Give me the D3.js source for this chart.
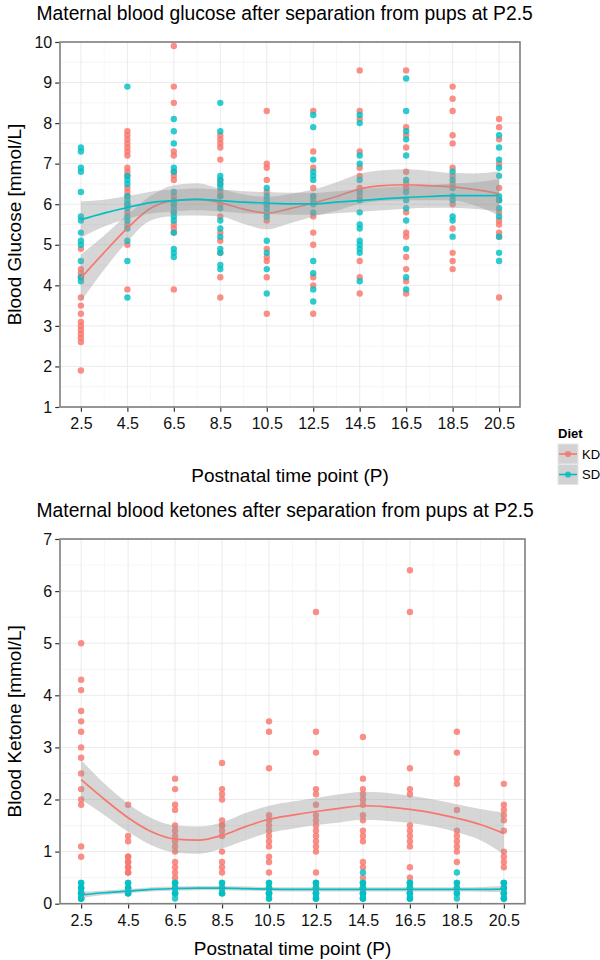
<!DOCTYPE html>
<html>
<head>
<meta charset="utf-8">
<script src="https://cdn.jsdelivr.net/npm/d3@7"></script>
<style>
  html, body { margin: 0; padding: 0; background: #fff; }
  svg { display: block; }
  text { font-family: "Liberation Sans", Arial, Helvetica, sans-serif; }
</style>
</head>
<body>
<div id="chart"></div>
<script>
// ---------------- DATA ----------------
const timePoints = [2.5, 4.5, 6.5, 8.5, 10.5, 12.5, 14.5, 16.5, 18.5, 20.5];
const xTickLabels = ["2.5", "4.5", "6.5", "8.5", "10.5", "12.5", "14.5", "16.5", "18.5", "20.5"];
const dietGroups = ["KD", "SD"];
const dietColors = ["#F8766D", "#00BFC4"];

// Glucose (mmol/L), one array per time point
const glucoseKD = [
  [4.9, 4.4, 4.3, 4.2, 3.7, 3.5, 3.3, 3.1, 3.0, 2.9, 2.8, 2.7, 2.6, 1.9],
  [7.8, 7.7, 7.6, 7.5, 7.4, 7.3, 7.2, 6.9, 6.8, 6.7, 6.4, 6.3, 6.2, 6.0, 5.8, 5.5, 5.0, 3.9],
  [9.9, 8.9, 8.5, 7.3, 7.2, 6.8, 6.7, 6.6, 6.2, 6.0, 5.8, 5.5, 5.4, 5.3, 3.9],
  [7.7, 7.6, 7.5, 7.4, 7.1, 6.6, 6.5, 6.3, 6.2, 6.0, 5.7, 5.3, 5.1, 4.8, 4.2, 3.7],
  [8.3, 7.0, 6.9, 6.6, 6.3, 6.0, 5.6, 4.9, 4.7, 4.6, 4.2, 3.3],
  [8.3, 7.3, 6.9, 6.4, 6.2, 5.7, 5.3, 5.0, 4.2, 4.0, 3.3],
  [9.3, 8.3, 8.1, 7.3, 6.9, 6.7, 6.4, 6.2, 4.6, 4.2, 3.8],
  [9.3, 7.9, 7.7, 7.4, 6.8, 6.5, 6.4, 5.8, 5.3, 5.2, 4.7, 4.4, 4.1, 3.8],
  [8.9, 8.6, 8.3, 7.7, 7.5, 6.9, 6.7, 6.5, 6.0, 5.4, 4.8, 4.6, 4.4],
  [8.1, 7.9, 7.6, 7.0, 6.4, 6.1, 5.8, 5.6, 5.5, 5.3, 5.2, 3.7]
];
const glucoseSD = [
  [7.4, 7.3, 6.9, 6.8, 6.3, 5.7, 5.6, 5.3, 5.1, 5.0, 4.6, 4.2, 4.1],
  [8.9, 6.7, 6.6, 6.5, 6.2, 6.1, 6.0, 5.9, 5.7, 5.6, 5.4, 5.1, 4.6, 3.7],
  [8.1, 7.8, 7.5, 6.9, 6.8, 6.3, 6.1, 6.0, 5.9, 5.8, 5.7, 5.6, 5.3, 4.9, 4.8, 4.7],
  [8.5, 7.8, 6.7, 6.6, 6.5, 6.4, 6.2, 5.9, 5.6, 5.4, 5.2, 4.9, 4.8, 4.5, 4.4],
  [6.4, 6.2, 6.1, 6.0, 5.9, 5.8, 5.7, 5.1, 4.8, 4.4, 3.8],
  [8.2, 7.9, 7.1, 6.8, 6.7, 6.6, 6.2, 6.1, 6.0, 5.8, 4.6, 4.3, 3.9, 3.6],
  [8.2, 8.0, 7.2, 7.0, 6.6, 6.3, 6.1, 5.8, 5.5, 5.4, 5.1, 5.0, 4.9, 4.8, 4.1],
  [9.1, 8.3, 7.8, 7.6, 7.2, 6.6, 6.3, 6.1, 5.9, 5.6, 4.9, 4.2, 3.9],
  [6.8, 6.6, 6.4, 6.2, 6.1, 5.7, 5.6, 5.2],
  [7.7, 7.4, 7.1, 6.9, 6.7, 6.2, 6.1, 5.9, 5.7, 5.2, 4.8, 4.6]
];

// Ketone (mmol/L), one array per time point
const ketoneKD = [
  [5.0, 4.3, 4.1, 3.7, 3.5, 3.3, 3.0, 2.8, 2.5, 2.2, 2.0, 1.9, 1.1, 0.9],
  [1.9, 1.3, 1.2, 0.9, 0.9, 0.8, 0.8, 0.7, 0.7, 0.6, 0.6],
  [2.4, 2.2, 1.9, 1.8, 1.5, 1.4, 1.3, 1.2, 1.1, 1.0, 0.8, 0.7, 0.6, 0.5],
  [2.7, 2.2, 2.1, 2.0, 1.6, 1.5, 1.5, 1.4, 1.3, 1.0, 0.8, 0.7, 0.6],
  [3.5, 3.3, 2.6, 1.7, 1.6, 1.5, 1.4, 1.3, 1.2, 1.1, 0.9, 0.8, 0.6],
  [5.6, 3.3, 2.9, 2.2, 2.1, 1.9, 1.7, 1.6, 1.5, 1.4, 1.3, 1.2, 1.1, 1.0, 0.6],
  [3.2, 2.4, 2.2, 2.1, 2.0, 1.9, 1.7, 1.6, 1.4, 1.3, 1.2, 0.8, 0.7, 0.5],
  [6.4, 5.6, 2.6, 2.2, 2.1, 1.5, 1.4, 1.3, 1.2, 1.1, 0.7, 0.5],
  [3.3, 2.9, 2.4, 2.3, 1.8, 1.4, 1.3, 1.2, 1.1, 1.0, 0.8],
  [2.3, 1.9, 1.8, 1.7, 1.6, 1.4, 1.0, 0.9, 0.8, 0.7]
];
const ketoneSD = [
  [0.4, 0.3, 0.2, 0.2, 0.1, 0.1, 0.2, 0.3, 0.1, 0.4, 0.2, 0.3, 0.1],
  [0.4, 0.3, 0.2, 0.3, 0.2, 0.4, 0.3, 0.2],
  [0.4, 0.4, 0.3, 0.3, 0.2, 0.2, 0.1, 0.3, 0.4, 0.2],
  [0.4, 0.3, 0.3, 0.2, 0.2, 0.4, 0.3, 0.2],
  [0.4, 0.3, 0.2, 0.1, 0.3, 0.2, 0.4, 0.1, 0.3, 0.2, 0.2],
  [0.4, 0.3, 0.2, 0.1, 0.3, 0.2, 0.4, 0.1, 0.3, 0.2, 0.2, 0.3, 0.1, 0.4],
  [0.6, 0.4, 0.3, 0.2, 0.1, 0.4, 0.3, 0.2, 0.1, 0.3, 0.2, 0.4, 0.1, 0.3, 0.2],
  [0.4, 0.3, 0.2, 0.1, 0.4, 0.3, 0.2, 0.1, 0.3, 0.2, 0.4, 0.1, 0.3],
  [0.6, 0.4, 0.3, 0.2, 0.1, 0.2, 0.3, 0.4],
  [0.4, 0.3, 0.2, 0.1, 0.4, 0.3, 0.2, 0.1, 0.3, 0.2, 0.4, 0.1]
];

// Loess smooth at each day
const smoothX = [2.5, 3.5, 4.5, 5.5, 6.5, 7.5, 8.5, 9.5, 10.5, 11.5, 12.5, 13.5, 14.5, 15.5, 16.5, 17.5, 18.5, 19.5, 20.5];
const glucoseKDFit = [4.18, 4.81, 5.41, 5.90, 6.09, 6.12, 6.04, 5.88, 5.78, 5.89, 6.03, 6.19, 6.38, 6.46, 6.48, 6.46, 6.43, 6.36, 6.26];
const glucoseKDSe  = [0.58, 0.42, 0.33, 0.30, 0.38, 0.40, 0.34, 0.36, 0.40, 0.36, 0.33, 0.35, 0.37, 0.38, 0.38, 0.36, 0.34, 0.40, 0.55];
const glucoseSDFit = [5.62, 5.78, 5.92, 6.04, 6.09, 6.12, 6.09, 6.05, 6.03, 6.01, 6.01, 6.05, 6.09, 6.13, 6.17, 6.19, 6.21, 6.21, 6.22];
const glucoseSDSe  = [0.45, 0.33, 0.28, 0.27, 0.27, 0.27, 0.27, 0.27, 0.27, 0.27, 0.27, 0.27, 0.28, 0.28, 0.28, 0.28, 0.30, 0.33, 0.40];
const ketoneKDFit  = [2.38, 2.00, 1.65, 1.38, 1.24, 1.22, 1.31, 1.48, 1.62, 1.70, 1.77, 1.83, 1.88, 1.86, 1.81, 1.74, 1.64, 1.52, 1.35];
const ketoneKDSe   = [0.38, 0.30, 0.27, 0.26, 0.26, 0.26, 0.25, 0.26, 0.26, 0.26, 0.26, 0.27, 0.27, 0.27, 0.26, 0.26, 0.27, 0.30, 0.40];
const ketoneSDFit  = [0.17, 0.21, 0.24, 0.275, 0.29, 0.30, 0.30, 0.29, 0.28, 0.275, 0.275, 0.275, 0.275, 0.275, 0.275, 0.275, 0.275, 0.275, 0.28];
const ketoneSDSe   = [0.06, 0.045, 0.04, 0.04, 0.04, 0.04, 0.04, 0.04, 0.04, 0.04, 0.04, 0.04, 0.04, 0.04, 0.04, 0.04, 0.04, 0.045, 0.06];

const glucoseTicks = [1, 2, 3, 4, 5, 6, 7, 8, 9, 10];
const ketoneTicks = [0, 1, 2, 3, 4, 5, 6, 7];

// ---------------- DRAWING ----------------
const W = 600, H = 960;
const svg = d3.select("#chart").append("svg").attr("width", W).attr("height", H);

function drawPanel(cfg) {
  const g = svg.append("g");
  const x = d3.scaleLinear().domain([1.6, 21.4]).range([cfg.left, cfg.right]);
  const y = d3.scaleLinear().domain(cfg.yDomain).range([cfg.bottom, cfg.top]);

  // title
  svg.append("text").attr("x", 36.5).attr("y", cfg.titleY)
    .attr("font-size", 19.3).attr("fill", "#000").text(cfg.title);

  // minor grid
  const yMinor = [];
  for (let v = cfg.yDomain[0] + 0.5; v < cfg.yDomain[1]; v += 1) yMinor.push(v);
  const xMinor = timePoints.slice(0, -1).map((t, i) => (t + timePoints[i + 1]) / 2);
  g.selectAll(".ymin").data(yMinor).enter().append("line")
    .attr("x1", cfg.left).attr("x2", cfg.right)
    .attr("y1", d => y(d)).attr("y2", d => y(d))
    .attr("stroke", "#f3f3f3").attr("stroke-width", 0.8);
  g.selectAll(".xmin").data(xMinor).enter().append("line")
    .attr("y1", cfg.top).attr("y2", cfg.bottom)
    .attr("x1", d => x(d)).attr("x2", d => x(d))
    .attr("stroke", "#f5f5f5").attr("stroke-width", 0.8);
  // major grid
  g.selectAll(".ymaj").data(cfg.yTicks).enter().append("line")
    .attr("x1", cfg.left).attr("x2", cfg.right)
    .attr("y1", d => y(d)).attr("y2", d => y(d))
    .attr("stroke", "#ebebeb").attr("stroke-width", 1);
  g.selectAll(".xmaj").data(timePoints).enter().append("line")
    .attr("y1", cfg.top).attr("y2", cfg.bottom)
    .attr("x1", d => x(d)).attr("x2", d => x(d))
    .attr("stroke", "#ebebeb").attr("stroke-width", 1);

  // points
  const pts = [];
  timePoints.forEach((t, i) => {
    cfg.kd[i].forEach(v => pts.push({ t, v, grp: 0 }));
    cfg.sd[i].forEach(v => pts.push({ t, v, grp: 1 }));
  });
  g.selectAll(".pt").data(pts).enter().append("circle")
    .attr("cx", d => x(d.t)).attr("cy", d => y(d.v)).attr("r", 3.2)
    .attr("fill", d => dietColors[d.grp]).attr("fill-opacity", 0.82);

  // smooths
  const series = [
    { fit: cfg.kdFit, se: cfg.kdSe, color: dietColors[0] },
    { fit: cfg.sdFit, se: cfg.sdSe, color: dietColors[1] }
  ];
  const curve = d3.curveMonotoneX;
  series.forEach(s => {
    const rows = smoothX.map((t, i) => ({ t, f: s.fit[i], lo: s.fit[i] - s.se[i], hi: s.fit[i] + s.se[i] }));
    g.append("path").datum(rows)
      .attr("d", d3.area().curve(curve).x(d => x(d.t)).y0(d => y(d.lo)).y1(d => y(d.hi)))
      .attr("fill", "#999999").attr("fill-opacity", 0.4);
    g.append("path").datum(rows)
      .attr("d", d3.line().curve(curve).x(d => x(d.t)).y(d => y(d.f)))
      .attr("fill", "none").attr("stroke", s.color).attr("stroke-width", 1.7);
  });

  // border
  g.append("rect").attr("x", cfg.left).attr("y", cfg.top)
    .attr("width", cfg.right - cfg.left).attr("height", cfg.bottom - cfg.top)
    .attr("fill", "none").attr("stroke", "#7f7f7f").attr("stroke-width", 1.6);

  // axes
  const ax = g.append("g").attr("transform", `translate(0,${cfg.bottom + 0.8})`)
    .call(d3.axisBottom(x).tickValues(timePoints).tickFormat((d, i) => xTickLabels[i]).tickSize(4).tickPadding(6));
  const ay = g.append("g").attr("transform", `translate(${cfg.left - 0.8},0)`)
    .call(d3.axisLeft(y).tickValues(cfg.yTicks).tickFormat(d3.format("d")).tickSize(4).tickPadding(3));
  [ax, ay].forEach(a => {
    a.select(".domain").remove();
    a.selectAll(".tick line").attr("stroke", "#333").attr("stroke-width", 1.2);
    a.selectAll(".tick text").attr("font-size", 16).attr("fill", "#111")
      .attr("font-family", '"Liberation Sans", Arial, Helvetica, sans-serif');
  });

  // axis titles
  svg.append("text").attr("x", (cfg.left + cfg.right) / 2).attr("y", cfg.xTitleY)
    .attr("text-anchor", "middle").attr("font-size", 19).text("Postnatal time point (P)");
  svg.append("text")
    .attr("transform", `translate(${cfg.yTitleX},${(cfg.top + cfg.bottom) / 2}) rotate(-90)`)
    .attr("text-anchor", "middle").attr("font-size", 19).text(cfg.yTitle);
}

drawPanel({
  title: "Maternal blood glucose after separation from pups at P2.5",
  titleY: 19.5, left: 60, right: 520, top: 42, bottom: 407,
  yDomain: [1, 10], yTicks: glucoseTicks,
  kd: glucoseKD, sd: glucoseSD,
  kdFit: glucoseKDFit, kdSe: glucoseKDSe, sdFit: glucoseSDFit, sdSe: glucoseSDSe,
  xTitleY: 482, yTitleX: 21, yTitle: "Blood Glucose [mmol/L]"
});
drawPanel({
  title: "Maternal blood ketones after separation from pups at P2.5",
  titleY: 517, left: 60, right: 525, top: 539, bottom: 903.7,
  yDomain: [0, 7], yTicks: ketoneTicks,
  kd: ketoneKD, sd: ketoneSD,
  kdFit: ketoneKDFit, kdSe: ketoneKDSe, sdFit: ketoneSDFit, sdSe: ketoneSDSe,
  xTitleY: 955, yTitleX: 21, yTitle: "Blood Ketone [mmol/L]"
});

// legend
const lg = svg.append("g");
lg.append("text").attr("x", 558).attr("y", 438).attr("font-size", 13).attr("font-weight", "bold").text("Diet");
dietGroups.forEach((name, i) => {
  const ky = 444 + i * 20.5;
  lg.append("rect").attr("x", 558).attr("y", ky).attr("width", 20).attr("height", 20)
    .attr("fill", "#d2d2d2").attr("stroke", "#e6e6e6").attr("stroke-width", 1);
  lg.append("line").attr("x1", 559).attr("x2", 577).attr("y1", ky + 10).attr("y2", ky + 10)
    .attr("stroke", dietColors[i]).attr("stroke-width", 1.6);
  lg.append("circle").attr("cx", 568).attr("cy", ky + 10).attr("r", 3.1)
    .attr("fill", dietColors[i]).attr("fill-opacity", 0.82);
  lg.append("text").attr("x", 582).attr("y", ky + 14.5).attr("font-size", 13).text(name);
});
</script>
</body>
</html>
